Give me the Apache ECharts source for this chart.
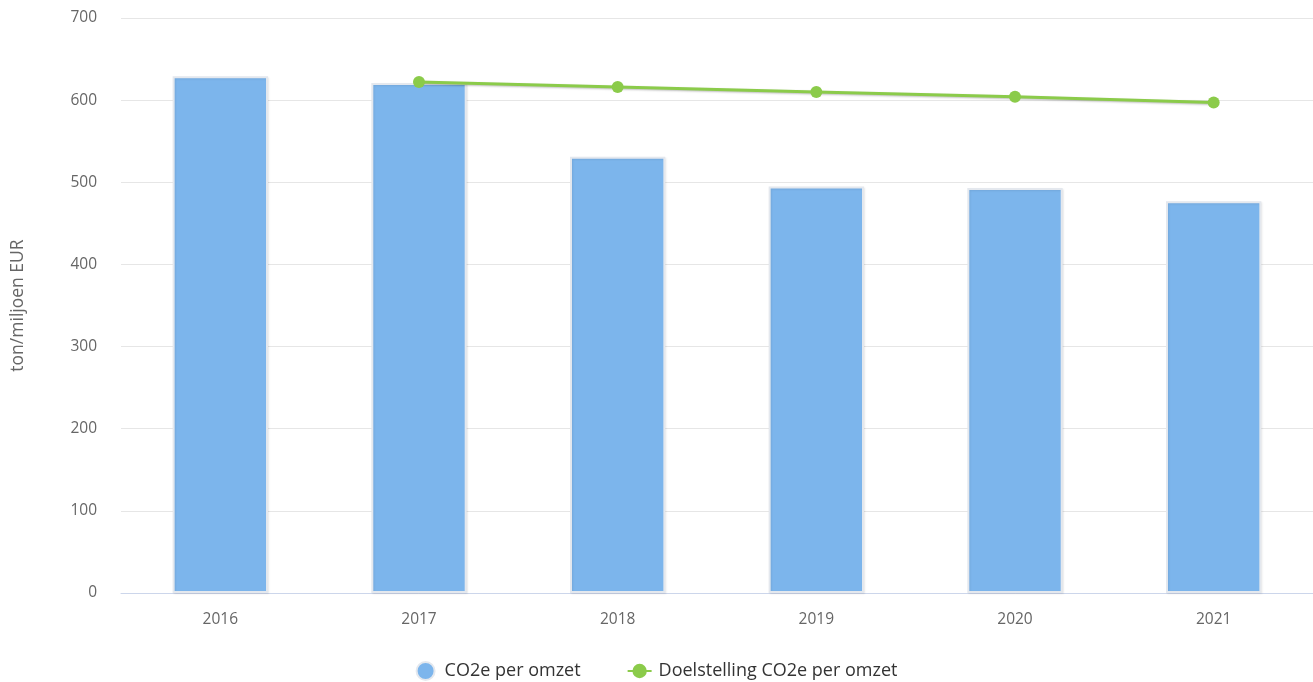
<!DOCTYPE html>
<html><head><meta charset="utf-8">
<script src="https://cdn.jsdelivr.net/npm/echarts@6/dist/echarts.min.js"></script>
<style>html,body{margin:0;padding:0;background:#fff}#c{width:1313px;height:682px}</style>
</head><body><div id="c"></div>
<script>
const categories = ['2016','2017','2018','2019','2020','2021'];
const co2eValues = [629, 621, 531, 495, 493, 477];
const targetValues = [null, 622, 616, 610, 604, 597];
const yTicks = [0,100,200,300,400,500,600,700];
const font = '"Open Sans", sans-serif';
const chart = echarts.init(document.getElementById('c'));
chart.setOption({
  animation:false,
  textStyle:{fontFamily:font},
  grid:{left:121, right:0, top:18, bottom:89, containLabel:false},
  legend:{
    top:656, left:'center', itemGap:46, itemWidth:24, itemHeight:18,
    textStyle:{fontSize:18, color:'#333', fontFamily:font, padding:[0,0,0,2]},
    data:[
      {name:'CO2e per omzet', icon:'circle'},
      {name:'Doelstelling CO2e per omzet'}
    ]
  },
  xAxis:{
    type:'category', data:categories,
    axisLine:{lineStyle:{color:'#ccd6eb', width:1}},
    axisTick:{show:false},
    axisLabel:{color:'#666', fontSize:15.5, margin:19, fontFamily:font}
  },
  yAxis:{
    type:'value', min:0, max:700, interval:100,
    name:'ton/miljoen EUR', nameLocation:'middle', nameGap:94, nameRotate:90,
    nameTextStyle:{color:'#666', fontSize:17.5, fontFamily:font},
    axisLine:{show:false}, axisTick:{show:false},
    axisLabel:{color:'#666', fontSize:15.5, margin:24, fontFamily:font,
      formatter:v=>yTicks.includes(v)?String(v):''},
    splitLine:{lineStyle:{color:'#e6e6e6'}}
  },
  series:[
    {
      name:'CO2e per omzet', type:'bar', data:co2eValues, barWidth:'48%',
      itemStyle:{color:'#7cb5ec', borderColor:'#e4e8ee', borderWidth:2,
        shadowColor:'rgba(0,0,0,0.08)', shadowBlur:2, shadowOffsetX:1, shadowOffsetY:1}
    },
    {
      name:'Doelstelling CO2e per omzet', type:'line', data:targetValues,
      symbol:'circle', symbolSize:12, connectNulls:false,
      lineStyle:{color:'#8bcb4a', width:3, shadowColor:'rgba(0,0,0,0.25)', shadowBlur:2, shadowOffsetY:1},
      itemStyle:{color:'#8bcb4a'}
    }
  ]
});
</script></body></html>
